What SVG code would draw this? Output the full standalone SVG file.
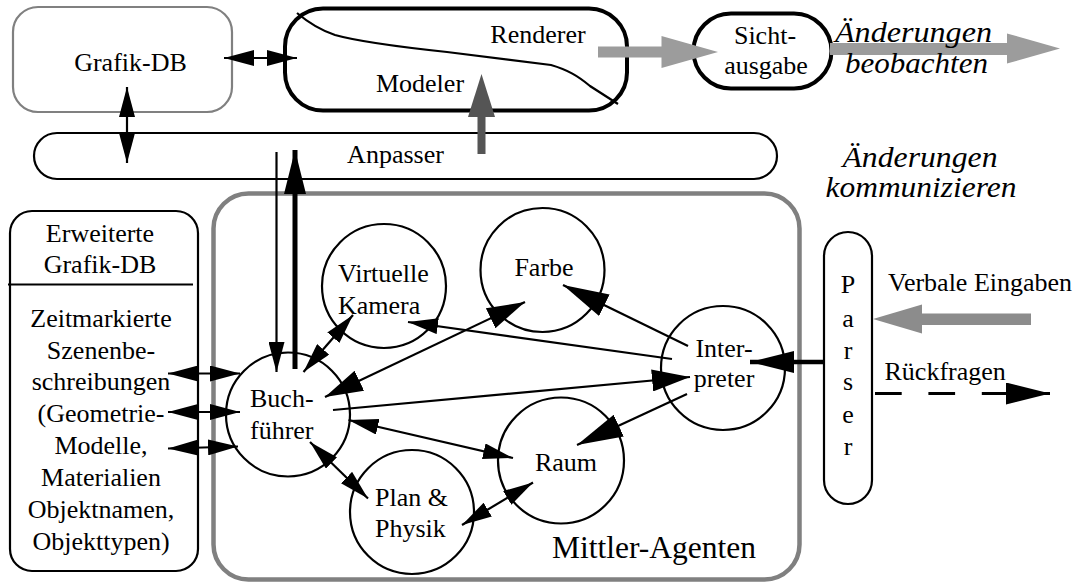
<svg xmlns="http://www.w3.org/2000/svg" width="1084" height="583" viewBox="0 0 1084 583">
<defs>
<style>
text{font-family:"Liberation Serif",Tinos,"Times New Roman",Times,"DejaVu Serif",serif;font-size:26px;fill:#000}
.it{font-style:italic;font-size:30px}
.mid{text-anchor:middle}
.box{fill:#fff;stroke:#000;stroke-width:2.2}
.thick{fill:#fff;stroke:#000;stroke-width:4}
.gbox{fill:#fff;stroke:#808080;stroke-width:2.2}
.ag{fill:none;stroke:#808080;stroke-width:4.5}
.c{fill:#fff;stroke:#000;stroke-width:2.2}
.ln{fill:none;stroke:#000;stroke-width:2.2}
.lg{fill:#9c9c9c}
.dg{fill:#555}
.mg{fill:#8c8c8c}
</style>
<marker id="s" markerUnits="userSpaceOnUse" viewBox="0 0 30 16" refX="30" refY="8" markerWidth="30" markerHeight="16" orient="auto-start-reverse"><path d="M0,0 L30,8 L0,16 z"/></marker>
<marker id="m" markerUnits="userSpaceOnUse" viewBox="0 0 38 22" refX="38" refY="11" markerWidth="38" markerHeight="22" orient="auto-start-reverse"><path d="M0,0 L38,11 L0,22 z"/></marker>
<marker id="b" markerUnits="userSpaceOnUse" viewBox="0 0 46 24" refX="46" refY="12" markerWidth="46" markerHeight="24" orient="auto-start-reverse"><path d="M0,0 L46,12 L0,24 z"/></marker>
<marker id="t" markerUnits="userSpaceOnUse" viewBox="0 0 44 22" refX="44" refY="11" markerWidth="44" markerHeight="22" orient="auto"><path d="M0,0 L44,11 L0,22 z"/></marker>
</defs>

<g id="mittler-agenten">
<rect class="ag" x="213.5" y="193.5" width="586" height="386" rx="35"/>
<text x="552" y="558" style="font-size:31.5px">Mittler-Agenten</text>
</g>

<g id="grafik-db">
<rect class="gbox" x="13" y="7" width="219" height="105" rx="25"/>
<text class="mid" x="130.5" y="71">Grafik-DB</text>
</g>

<g id="modeler-renderer">
<rect class="thick" x="285" y="8.5" width="342" height="102" rx="38"/>
<path class="ln" d="M297,13 C310,24 320,30 335,35 C360,42 400,47 447,52 L551,65 C568,70 578,76 590,86 L618,104"/>
<text class="mid" x="538" y="43">Renderer</text>
<text class="mid" x="420" y="92">Modeler</text>
</g>

<g id="sichtausgabe">
<rect class="thick" x="693.5" y="13.5" width="138" height="75" rx="37.5"/>
<text class="mid" x="765" y="44">Sicht-</text>
<text class="mid" x="766" y="74">ausgabe</text>
</g>

<g id="anpasser">
<rect class="box" x="34" y="133" width="743" height="46" rx="23"/>
<text class="mid" x="395.5" y="163">Anpasser</text>
</g>

<g id="erweiterte-grafik-db">
<rect class="box" x="10" y="211" width="188" height="360" rx="22"/>
<line class="ln" x1="8" y1="284.5" x2="193" y2="284.5"/>
<text class="mid" x="100" y="242">Erweiterte</text>
<text class="mid" x="100" y="273">Grafik-DB</text>
<text class="mid" x="101" y="327">Zeitmarkierte</text>
<text class="mid" x="101" y="358.5">Szenenbe-</text>
<text class="mid" x="101" y="390">schreibungen</text>
<text class="mid" x="101" y="422">(Geometrie-</text>
<text class="mid" x="101" y="454">Modelle,</text>
<text class="mid" x="101" y="486">Materialien</text>
<text class="mid" x="101" y="518">Objektnamen,</text>
<text class="mid" x="101" y="550">Objekttypen)</text>
</g>

<g id="buchfuehrer">
<circle class="c" cx="288" cy="414.5" r="62"/>
<text x="250" y="407">Buch-</text>
<text x="250" y="438.5">führer</text>
</g>

<g id="virtuelle-kamera">
<circle class="c" cx="384" cy="286" r="62"/>
<text x="338" y="282">Virtuelle</text>
<text x="338" y="313.5">Kamera</text>
</g>

<g id="farbe">
<circle class="c" cx="542.5" cy="270" r="62"/>
<text class="mid" x="544" y="276">Farbe</text>
</g>

<g id="raum">
<circle class="c" cx="561" cy="460.5" r="63"/>
<text class="mid" x="566" y="471">Raum</text>
</g>

<g id="plan-physik">
<circle class="c" cx="412" cy="512" r="62"/>
<text x="375" y="506">Plan &amp;</text>
<text x="375" y="537">Physik</text>
</g>

<g id="interpreter">
<circle class="c" cx="723" cy="368" r="62"/>
<text class="mid" x="724" y="357">Inter-</text>
<text class="mid" x="724" y="387">preter</text>
</g>

<g id="parser">
<rect class="box" x="824" y="232" width="48" height="272" rx="24"/>
<g style="font-size:29px">
<text class="mid" x="848" y="293">P</text>
<text class="mid" x="848" y="327">a</text>
<text class="mid" x="848" y="358.5">r</text>
<text class="mid" x="848" y="390">s</text>
<text class="mid" x="848" y="423">e</text>
<text class="mid" x="848" y="455">r</text>
</g>
</g>

<g id="labels">
<text x="888" y="291">Verbale Eingaben</text>
<text x="884.5" y="379.5">Rückfragen</text>
</g>

<g id="connectors">
<rect class="lg" x="598" y="46.5" width="64" height="11"/>
<polygon class="lg" points="661.5,36 718,52 661.5,68"/>
<rect class="lg" x="830" y="43" width="178" height="12"/>
<polygon class="lg" points="1007,33.5 1060,48.5 1007,63.5"/>
<rect class="dg" x="477.5" y="116" width="8" height="38"/>
<polygon class="dg" points="468,117 481.5,74 495,117"/>
<rect class="mg" x="921" y="313.5" width="110" height="11.5"/>
<polygon class="mg" points="922,304.5 873,319 922,333.5"/>

<line class="ln" x1="224" y1="58" x2="297" y2="58" marker-start="url(#s)" marker-end="url(#s)"/>
<line class="ln" x1="127" y1="87" x2="127" y2="163" marker-start="url(#s)" marker-end="url(#s)"/>
<line class="ln" x1="276.5" y1="152" x2="276.5" y2="372" marker-end="url(#s)"/>
<line x1="295" y1="369" x2="295" y2="150" stroke="#000" stroke-width="5" marker-end="url(#t)"/>
<line class="ln" x1="168" y1="373.5" x2="240" y2="373.5" marker-start="url(#s)" marker-end="url(#s)"/>
<line class="ln" x1="168" y1="412" x2="240" y2="412" marker-start="url(#s)" marker-end="url(#s)"/>
<line class="ln" x1="168" y1="448.5" x2="238" y2="446.5" marker-start="url(#s)" marker-end="url(#s)"/>
<line class="ln" x1="303.5" y1="372" x2="353" y2="315" marker-start="url(#s)" marker-end="url(#s)"/>
<line class="ln" x1="325" y1="397" x2="525" y2="302" marker-start="url(#m)" marker-end="url(#m)"/>
<line class="ln" x1="688" y1="346" x2="563" y2="285" marker-end="url(#b)"/>
<line class="ln" x1="672" y1="359" x2="408" y2="322" marker-end="url(#s)"/>
<line class="ln" x1="333" y1="410" x2="690" y2="377" marker-end="url(#m)"/>
<line class="ln" x1="687" y1="394" x2="577" y2="445" marker-end="url(#b)"/>
<line class="ln" x1="348.5" y1="420" x2="513" y2="458" marker-start="url(#s)" marker-end="url(#s)"/>
<line class="ln" x1="310" y1="442" x2="368" y2="498.5" marker-start="url(#s)" marker-end="url(#s)"/>
<line class="ln" x1="533" y1="482.5" x2="462" y2="525" marker-start="url(#s)" marker-end="url(#s)"/>
<line x1="824" y1="362" x2="750" y2="362" stroke="#000" stroke-width="4.5" marker-end="url(#t)"/>
<line x1="875" y1="393.5" x2="1050" y2="393.5" stroke="#000" stroke-width="3" stroke-dasharray="26.7 26.7" marker-end="url(#t)"/>
</g>

<g id="italic-labels">
<text class="it" x="835" y="42" textLength="157" lengthAdjust="spacingAndGlyphs">Änderungen</text>
<text class="it" x="845" y="73" textLength="143" lengthAdjust="spacingAndGlyphs">beobachten</text>
<text class="it mid" x="920" y="167" textLength="155" lengthAdjust="spacingAndGlyphs">Änderungen</text>
<text class="it mid" x="921" y="197" textLength="191" lengthAdjust="spacingAndGlyphs">kommunizieren</text>
</g>
</svg>
